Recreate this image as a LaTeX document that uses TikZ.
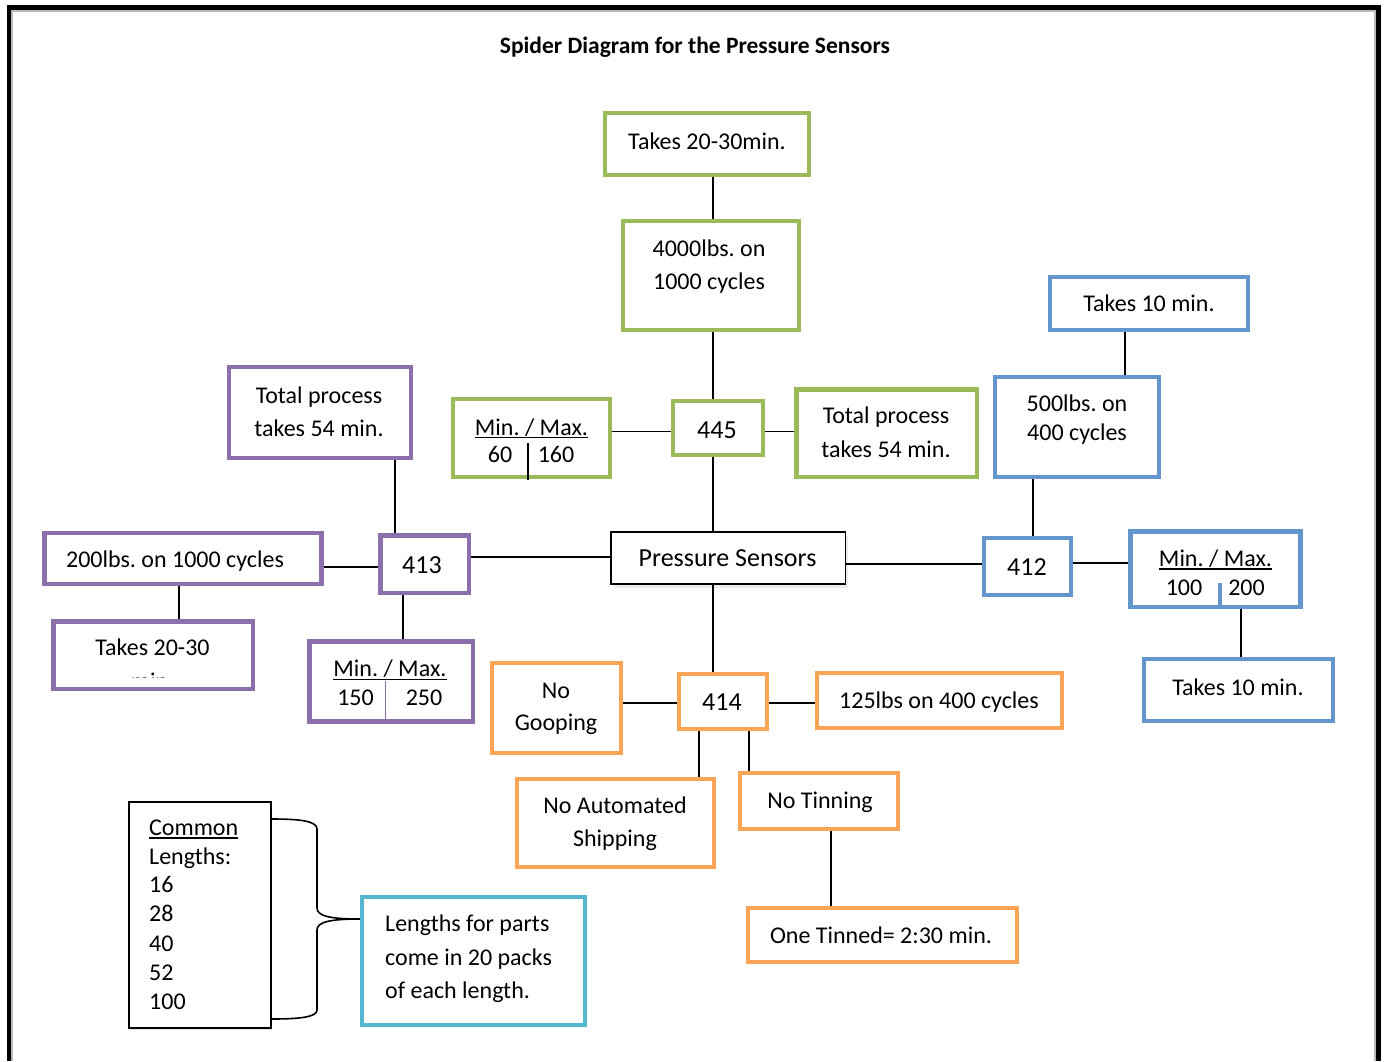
\documentclass[tikz,border=0pt]{standalone}
\usepackage{fontspec}
\setmainfont{Carlito}
\usetikzlibrary{fit,shadows}
\frenchspacing
\definecolor{cgreen}{RGB}{155,187,89}
\definecolor{cpurple}{RGB}{140,112,172}
\definecolor{cblue}{RGB}{100,150,205}
\definecolor{corange}{RGB}{249,165,85}
\definecolor{cteal}{RGB}{85,182,208}
\begin{document}
\frenchspacing
\begin{tikzpicture}[x=1pt,y=-1pt,
  box/.style={rectangle, inner sep=0pt, fill=white},
  gbox/.style={box, draw=cgreen, line width=4.5pt},
  pbox/.style={box, draw=cpurple, line width=4.5pt},
  bbox/.style={box, draw=cblue, line width=4.5pt},
  obox/.style={box, draw=corange, line width=4.5pt},
  tbox/.style={box, draw=cteal, line width=4.5pt},
  kbox/.style={box, draw=black, line width=1.8pt},
  txt/.style={inner sep=0pt, anchor=base, font=\fontsize{24}{29}\selectfont},
  ltxt/.style={txt, anchor=base west},
  num/.style={txt, font=\fontsize{26}{31}\selectfont},
  link/.style={draw=black, line width=1.8pt},
  uline/.style={draw=black, line width=1.6pt}]
\useasboundingbox (0,0) rectangle (1385,1061);
\fill[white] (0,0) rectangle (1385,1061);

% frame
\draw[gray!55, line width=1.2pt] (12,1061) -- (12,11) -- (1375,11) -- (1375,1061);
\draw[line width=4.8pt] (9,1061) -- (9,7.5) -- (1378.5,7.5) -- (1378.5,1061);

\node[inner sep=0pt, anchor=base, font=\bfseries\fontsize{23.5}{28}\selectfont] (title) at (695,53) {Spider Diagram for the Pressure Sensors};

% helper coordinates for connector positions
\coordinate (v713) at (713,0);
\coordinate (v395) at (395,0);
\coordinate (v179) at (179,0);
\coordinate (v403) at (403,0);
\coordinate (v1125) at (1125,0);
\coordinate (v1033) at (1033,0);
\coordinate (v1241) at (1241,0);
\coordinate (v699) at (699,0);
\coordinate (v749) at (749,0);
\coordinate (v831) at (831,0);
\coordinate (h431) at (0,431.5);
\coordinate (h557) at (0,557);
\coordinate (h564) at (0,564);
\coordinate (h567) at (0,567);
\coordinate (h563) at (0,563);
\coordinate (h703) at (0,703);
\coordinate (h819) at (0,819);
\coordinate (h919) at (0,919);
\coordinate (h1019) at (0,1019);

% green
\node[gbox, fit={(605,113) (809,175)}] (gT) {};
\node[gbox, fit={(623,221) (799,330)}] (g4000) {};
\node[gbox, fit={(673,401) (763,455)}] (g445) {};
\node[gbox, fit={(453,399) (610,477)}] (gMM) {};
\node[gbox, fit={(796.5,389.5) (977,477)}] (gTot) {};
% center
\node[kbox, drop shadow={shadow xshift=2pt, shadow yshift=-4pt, opacity=0.15}, fit={(611,532) (845.5,584)}] (PS) {};
% purple
\node[pbox, fit={(229,367) (411,458)}] (pTot) {};
\node[pbox, fit={(380.5,535.5) (469,593)}] (p413) {};
\node[pbox, fit={(44.5,533) (321.5,584)}] (p200) {};
\node[pbox, fit={(53.5,621.5) (253,689)}] (pTk) {};
\node[pbox, fit={(309.5,641.5) (473,721.5)}] (pMM) {};
% blue
\node[bbox, fit={(1050,277) (1248,330)}] (bTk1) {};
\node[bbox, fit={(995,377) (1159,477)}] (b500) {};
\node[bbox, fit={(984,538) (1071,595)}] (b412) {};
\node[bbox, fit={(1130.5,531.5) (1300.5,607)}] (bMM) {};
\node[bbox, fit={(1144,659) (1333,721)}] (bTk2) {};
% orange
\node[obox, fit={(679,674) (767,729)}] (o414) {};
\node[obox, fit={(492,663) (621,753)}] (oGoop) {};
\node[obox, fit={(817,673) (1062,728)}] (o125) {};
\node[obox, fit={(517,779) (714,867)}] (oAuto) {};
\node[obox, fit={(740,773) (898,829)}] (oTin) {};
\node[obox, fit={(748,908) (1017,962)}] (oOne) {};
% bottom left
\node[kbox, drop shadow={shadow xshift=1pt, shadow yshift=-2pt, opacity=0.2}, fit={(129,802) (271,1028)}] (cl) {};
\node[tbox, fit={(362,897) (585,1025)}] (teal) {};

% connectors
\draw[link] (gT.south -| v713) -- (g4000.north -| v713);
\draw[link] (g4000.south -| v713) -- (g445.north -| v713);
\draw[link] (g445.south -| v713) -- (PS.north -| v713);
\draw[link] (gMM.east |- h431) -- (g445.west |- h431);
\draw[link] (g445.east |- h431) -- (gTot.west |- h431);
\draw[link] (PS.west |- h557) -- (p413.east |- h557);
\draw[link] (PS.east |- h564) -- (b412.west |- h564);
\draw[link] (PS.south -| v713) -- (o414.north -| v713);
\draw[link] (pTot.south -| v395) -- (p413.north -| v395);
\draw[link] (p200.east |- h567) -- (p413.west |- h567);
\draw[link] (p200.south -| v179) -- (pTk.north -| v179);
\draw[link] (p413.south -| v403) -- (pMM.north -| v403);
\draw[link] (bTk1.south -| v1125) -- (b500.north -| v1125);
\draw[link] (b500.south -| v1033) -- (b412.north -| v1033);
\draw[link] (b412.east |- h563) -- (bMM.west |- h563);
\draw[link] (bMM.south -| v1241) -- (bTk2.north -| v1241);
\draw[link] (oGoop.east |- h703) -- (o414.west |- h703);
\draw[link] (o414.east |- h703) -- (o125.west |- h703);
\draw[link] (o414.south -| v699) -- (oAuto.north -| v699);
\draw[link] (o414.south -| v749) -- (oTin.north -| v749);
\draw[link] (oTin.south -| v831) -- (oOne.north -| v831);

% brace
\draw[link, line width=1.6pt] (cl.east |- h819) .. controls (300,819) and (317,821) .. (317,829) -- (317,908)
  .. controls (317,916) and (330,919) .. (teal.west |- h919)
  .. controls (330,919) and (317,922) .. (317,930) -- (317,1010)
  .. controls (317,1017) and (300,1019) .. (cl.east |- h1019);

% texts green
\node[txt] (tgT) at (707,149) {Takes 20-30min.};
\node[txt] (tg4a) at (709,256) {4000lbs. on};
\node[txt] (tg4b) at (709,289) {1000 cycles};
\node[num] (tg445) at (717,438) {445};
\node[txt] (tgTa) at (886,423) {Total process};
\node[txt] (tgTb) at (886,457) {takes 54 min.};
\node[txt] (tgMM) at (531.5,435) {Min. / Max.};
\draw[uline] ([yshift=-2.5pt]tgMM.base west) -- ([yshift=-2.5pt]tgMM.base east);
\node[txt] (tg60) at (500,462.7) {60};
\node[txt] (tg160) at (556,462.7) {160};
\draw[link, line width=1.6pt] (528,443) -- (528,480);

% center text
\node[num] (tPS) at (727.5,566) {Pressure Sensors};

% purple texts
\node[txt] (tpTa) at (319,403) {Total process};
\node[txt] (tpTb) at (319,436) {takes 54 min.};
\node[num] (tp413) at (422,573) {413};
\node[txt] (tp200) at (175,567.7) {200lbs. on 1000 cycles};
\node[txt] (tpTk) at (152.5,655) {Takes 20-30};
\begin{scope}
  \clip (56,600) rectangle (251,677.3);
  \node[txt] (tpTkb) at (152.5,689) {min.};
\end{scope}
\node[txt] (tpMM) at (390,676.7) {Min. / Max.};
\draw[uline] ([yshift=-2.6pt]tpMM.base west) -- ([yshift=-2.6pt]tpMM.base east);
\node[txt] (tp150) at (355.5,705) {150};
\node[txt] (tp250) at (424,705) {250};
\draw[cpurple, line width=1.2pt] (385.5,680.5) -- (385.5,719.5);

% blue texts
\node[txt] (tbTk1) at (1149,311.7) {Takes 10 min.};
\node[txt] (tb5a) at (1077,411.7) {500lbs. on};
\node[txt] (tb5b) at (1077,440) {400 cycles};
\node[num] (tb412) at (1027,575) {412};
\node[txt] (tbMM) at (1215.5,566) {Min. / Max.};
\draw[uline] ([yshift=-3pt]tbMM.base west) -- ([yshift=-3pt]tbMM.base east);
\node[txt] (tb100) at (1184,595) {100};
\node[txt] (tb200) at (1246.5,595) {200};
\draw[cblue, line width=4pt] (1220,583) -- (1220,606);
\node[txt] (tbTk2) at (1238,695) {Takes 10 min.};

% orange texts
\node[num] (to414) at (722,710) {414};
\node[txt] (toGa) at (556,698) {No};
\node[txt] (toGb) at (556,730.7) {Gooping};
\node[txt] (to125) at (939,708) {125lbs on 400 cycles};
\node[txt] (toAa) at (615,813) {No Automated};
\node[txt] (toAb) at (615,846.7) {Shipping};
\node[txt] (toTin) at (820,808) {No Tinning};
\node[txt] (toOne) at (881,943) {One Tinned= 2:30 min.};

% common lengths
\node[ltxt] (tc1) at (149,835) {Common};
\draw[uline] ([yshift=-2.8pt]tc1.base west) -- ([yshift=-2.8pt]tc1.base east);
\node[ltxt] (tc2) at (149,864) {Lengths:};
\node[ltxt] (tc3) at (149,892.7) {16};
\node[ltxt] (tc4) at (149,921.7) {28};
\node[ltxt] (tc5) at (149,951.7) {40};
\node[ltxt] (tc6) at (149,980.7) {52};
\node[ltxt] (tc7) at (149,1009) {100};

% teal texts
\node[ltxt] (tt1) at (385,931.7) {Lengths for parts};
\node[ltxt] (tt2) at (385,965) {come in 20 packs};
\node[ltxt] (tt3) at (385,998.3) {of each length.};
\end{tikzpicture}
\end{document}
